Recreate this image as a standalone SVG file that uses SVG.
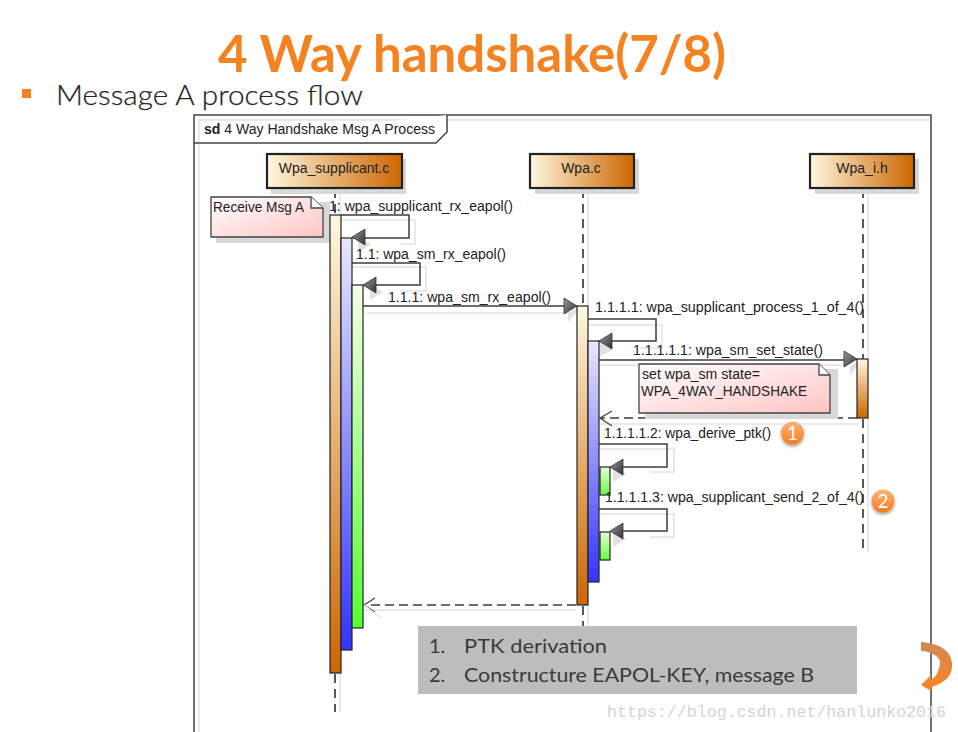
<svg xmlns="http://www.w3.org/2000/svg" width="958" height="732" viewBox="0 0 958 732">
<style>
.t{font-family:"Liberation Sans",Arial,sans-serif;font-size:14px;fill:#222}
.c{font-family:Lato,"Open Sans","Noto Sans",sans-serif;fill:#3a3a38}
.m{fill:none;stroke:#3c3c3c;stroke-width:1.5}
.s{fill:none;stroke:#e4e4e4;stroke-width:1.5}
.a{stroke:#222;stroke-width:1.2}
.n{stroke:#222;stroke-width:2.2}
.l{stroke:#222;stroke-width:1.5;stroke-dasharray:9 6;fill:none}
.ls{stroke:#e4e4e4;stroke-width:1.5;fill:none}
.d{fill:none;stroke:#3c3c3c;stroke-width:1.5;stroke-dasharray:9 5}
.ar{fill:url(#ah);stroke:#333;stroke-width:.8}
.as{fill:#e2e2e2}
</style>
<defs>
<linearGradient id="nd" x1="0" x2="1" y1="0" y2="0"><stop offset="0" stop-color="#fff8df"/><stop offset="1" stop-color="#cc6600"/></linearGradient>
<linearGradient id="or" x1="0" x2="0" y1="0" y2="1"><stop offset="0" stop-color="#fff8e0"/><stop offset="1" stop-color="#cc6600"/></linearGradient>
<linearGradient id="bl" x1="0" x2="0" y1="0" y2="1"><stop offset="0" stop-color="#e8e8ff"/><stop offset="1" stop-color="#3333ff"/></linearGradient>
<linearGradient id="gr" x1="0" x2="0" y1="0" y2="1"><stop offset="0" stop-color="#f5ffe6"/><stop offset="1" stop-color="#55ff33"/></linearGradient>
<linearGradient id="gs" x1="0" x2="0" y1="0" y2="1"><stop offset="0" stop-color="#e4ffd4"/><stop offset="1" stop-color="#66ff44"/></linearGradient>
<linearGradient id="nt" x1="0" x2="1" y1="0" y2="1"><stop offset="0" stop-color="#ffffff"/><stop offset="1" stop-color="#ffc4c4"/></linearGradient>
<linearGradient id="ah" x1="0" x2="1" y1="0" y2="1"><stop offset="0" stop-color="#9a9a9a"/><stop offset="1" stop-color="#333"/></linearGradient>
<linearGradient id="cb" x1="0" x2="0" y1="0" y2="1"><stop offset="0" stop-color="#ffb47a"/><stop offset="1" stop-color="#f47a1f"/></linearGradient>
<linearGradient id="cv" x1="0" x2="0" y1="0" y2="1"><stop offset="0" stop-color="#d08a55"/><stop offset="1" stop-color="#fb8320"/></linearGradient>
<filter id="sh" x="-30%" y="-30%" width="170%" height="170%"><feDropShadow dx="0" dy="2" stdDeviation="1.5" flood-color="#000" flood-opacity=".35"/></filter>
</defs>

<rect width="958" height="732" fill="#fff"/>

<g id="title">
<text x="218" y="72" class="c" font-size="52" font-weight="700" style="fill:#f58220" textLength="508" lengthAdjust="spacingAndGlyphs">4 Way handshake(7/8)</text>
<rect x="22" y="89" width="9" height="9" fill="#f58220"/>
<text x="56" y="105" class="c" font-size="28" font-weight="300" style="fill:#262624;stroke:#262624;stroke-width:.25" textLength="307" lengthAdjust="spacingAndGlyphs">Message A process flow</text>
</g>

<g id="frame">
<path d="M199 732V120H931" class="ls"/>
<path d="M194 732V115H931V732" fill="none" stroke="#444" stroke-width="1.5"/>
<path d="M194 143H436L447 132V115" fill="#fff" stroke="#444" stroke-width="1.5"/>
<text x="204" y="134" class="t" textLength="231" lengthAdjust="spacingAndGlyphs"><tspan font-weight="700">sd</tspan> 4 Way Handshake Msg A Process</text>
</g>

<g id="connectors">
<path d="M340 189V215M340 674V712M588 189V306M588 606V626M868 189V359M868 419V552" class="ls"/>
<path d="M335 189V215M335 674V712" class="l"/>
<path d="M583 189V306M583 606V628" class="l"/>
<path d="M863 189V359M863 419V552" class="l"/>
<path d="M341 220H415V244H400M352 267H426V291H400M366 313H570M589 325H662V348H640M600 365H845M600 424H858M600 449H674V472H650M600 514H674V537H650M364 610H576" class="s"/>
<path class="m" d="M341 215H409V238H353"/>
<path class="m" d="M352 263H420V285H365"/>
<path class="m" d="M363 306H565"/>
<path class="m" d="M588 319H656V341H600"/>
<path class="m" d="M599 360H845"/>
<path class="d" d="M857 418H601"/>
<path class="m" d="M599 444H667V467H612"/>
<path class="m" d="M599 509H667V531H612"/>
<path class="d" d="M576 605H366"/>
<g class="as">
<path d="M358 235 371 245 358 252ZM370 283 383 292 370 300ZM568 313 583 305 568 322ZM600 339 613 350 600 356ZM850 366 864 358 850 375ZM613 465 626 474 613 482ZM613 530 626 539 613 547Z"/>
</g>
<path class="ar" d="M365 229 352 237 365 245Z"/>
<path class="ar" d="M376 277 363 285 376 293Z"/>
<path class="ar" d="M564 298 577 306 564 314Z"/>
<path class="ar" d="M612 333 599 341 612 349Z"/>
<path class="ar" d="M844 351 857 359 844 367Z"/>
<path class="ar" d="M623 459 610 467 623 475Z"/>
<path class="ar" d="M623 523 610 531 623 539Z"/>
<path d="M612 411 600 418 612 426" fill="none" stroke="#444" stroke-width="1.3"/>
<path d="M375 598 364 605 375 612" fill="none" stroke="#444" stroke-width="1.3"/>
<path d="M364 605 381 618" stroke="#e4e4e4" stroke-width="1.5"/>
</g>

<g id="wpa_supplicant_c">
<rect x="271" y="159" width="135" height="35" fill="#d8d8d8"/>
<rect x="267" y="154" width="135" height="34" fill="url(#nd)" class="n"/>
<text x="334" y="173" text-anchor="middle" class="t">Wpa_supplicant.c</text>
</g>
<g id="wpa_c">
<rect x="535" y="159" width="104" height="35" fill="#d8d8d8"/>
<rect x="530" y="154" width="104" height="34" fill="url(#nd)" class="n"/>
<text x="581" y="173" text-anchor="middle" class="t">Wpa.c</text>
</g>
<g id="wpa_i_h">
<rect x="815" y="159" width="104" height="35" fill="#d8d8d8"/>
<rect x="810" y="154" width="104" height="34" fill="url(#nd)" class="n"/>
<text x="862" y="173" text-anchor="middle" class="t">Wpa_i.h</text>
</g>

<g id="note_receive">
<path d="M216 202H330V243H216Z" fill="#d8d8d8"/>
<path d="M211 197H311L323 208V237H211Z" fill="url(#nt)" stroke="#444" stroke-width="1.3"/>
<path d="M311 197V208H323" fill="#fff" stroke="#444" stroke-width="1.3"/>
<text x="213" y="212" class="t" textLength="91" lengthAdjust="spacingAndGlyphs">Receive Msg A</text>
</g>
<g id="activations">
<rect x="330" y="215" width="11" height="458" fill="url(#or)" class="a"/>
<rect x="341" y="238" width="11" height="412" fill="url(#bl)" class="a"/>
<rect x="352" y="285" width="11" height="343" fill="url(#gr)" class="a"/>
<rect x="577" y="306" width="11" height="299" fill="url(#or)" class="a"/>
<rect x="588" y="341" width="11" height="241" fill="url(#bl)" class="a"/>
<rect x="600" y="467" width="10" height="28" fill="url(#gs)" class="a"/>
<rect x="600" y="532" width="10" height="28" fill="url(#gs)" class="a"/>
<rect x="857" y="359" width="11" height="59" fill="url(#or)" class="a"/>
</g>
<g id="note_state">
<path d="M645 369H838V419H645Z" fill="#d8d8d8"/>
<path d="M639 364H819L830 375V413H639Z" fill="url(#nt)" stroke="#444" stroke-width="1.3"/>
<path d="M819 364V375H830" fill="#fff" stroke="#444" stroke-width="1.3"/>
<text x="642" y="379" class="t" textLength="118" lengthAdjust="spacingAndGlyphs">set wpa_sm state=</text>
<text x="641" y="396" class="t" textLength="166" lengthAdjust="spacingAndGlyphs">WPA_4WAY_HANDSHAKE</text>
</g>

<g id="labels">
<text x="329" y="211" class="t" textLength="184" lengthAdjust="spacingAndGlyphs">1: wpa_supplicant_rx_eapol()</text>
<text x="356" y="259" class="t" textLength="150" lengthAdjust="spacingAndGlyphs">1.1: wpa_sm_rx_eapol()</text>
<text x="388" y="302" class="t" textLength="163" lengthAdjust="spacingAndGlyphs">1.1.1: wpa_sm_rx_eapol()</text>
<text x="595" y="312" class="t" textLength="269" lengthAdjust="spacingAndGlyphs">1.1.1.1: wpa_supplicant_process_1_of_4()</text>
<text x="633" y="355" class="t" textLength="190" lengthAdjust="spacingAndGlyphs">1.1.1.1.1: wpa_sm_set_state()</text>
<text x="604" y="438" class="t" textLength="167" lengthAdjust="spacingAndGlyphs">1.1.1.1.2: wpa_derive_ptk()</text>
<text x="605" y="502" class="t" textLength="259" lengthAdjust="spacingAndGlyphs">1.1.1.1.3: wpa_supplicant_send_2_of_4()</text>
</g>

<g id="badge_1">
<circle cx="792.500" cy="433" r="11.500" fill="url(#cb)" filter="url(#sh)"/>
<text x="792.500" y="440" text-anchor="middle" font-family="Lato,'Open Sans',sans-serif" font-size="19" fill="#fff">1</text>
</g>
<g id="badge_2">
<circle cx="883" cy="501" r="11.500" fill="url(#cb)" filter="url(#sh)"/>
<text x="883" y="508" text-anchor="middle" font-family="Lato,'Open Sans',sans-serif" font-size="19" fill="#fff">2</text>
</g>

<g id="legend">
<rect x="418" y="626" width="439" height="68" fill="#bdbdbd"/>
<text x="429" y="653" class="c" font-size="20">1.</text>
<text x="464" y="653" class="c" font-size="20" textLength="143" lengthAdjust="spacingAndGlyphs">PTK derivation</text>
<text x="429" y="682" class="c" font-size="20">2.</text>
<text x="464" y="682" class="c" font-size="20" textLength="350" lengthAdjust="spacingAndGlyphs">Constructure EAPOL-KEY, message B</text>
</g>

<g id="return_arrow">
<path d="M921 651C934 652 941 658 940 664C939 671 936 677 931 680L931 675L921 685L931 691L931 687C944 683 953 677 952 663C951 650 938 643 921 642Z" fill="url(#cv)"/>
</g>

<text x="607" y="717" font-family="'Liberation Mono','DejaVu Sans Mono',monospace" font-size="17" fill="#d4d4d4" textLength="339" lengthAdjust="spacingAndGlyphs">https://blog.csdn.net/hanlunko2016</text>
</svg>
